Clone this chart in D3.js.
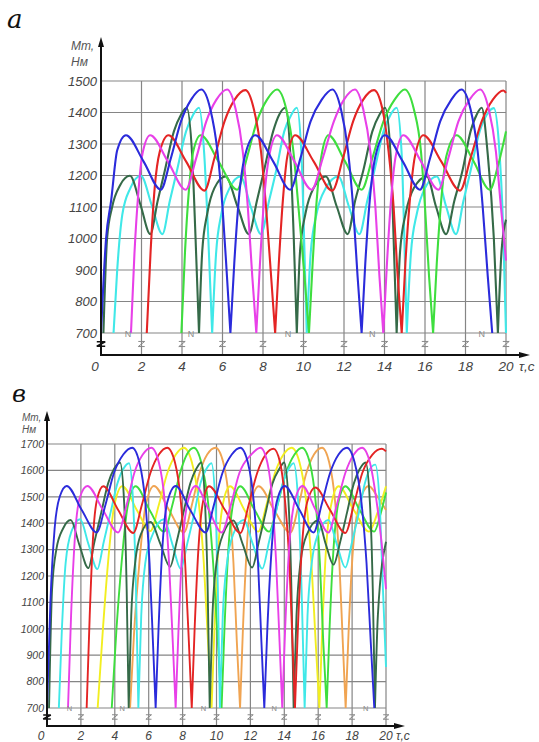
<!DOCTYPE html>
<html><head><meta charset="utf-8">
<script src="https://cdn.jsdelivr.net/npm/d3@7"></script>
<style>body{margin:0;background:#fff}svg{display:block}</style>
</head><body><svg id="c" width="539" height="742"></svg>
<script>
// ---------- tick labels ----------
const timeTicks = [0,2,4,6,8,10,12,14,16,18,20];
const topTorqueTicks = [700,800,900,1000,1100,1200,1300,1400,1500];
const bottomTorqueTicks = [700,800,900,1000,1100,1200,1300,1400,1500,1600,1700];
const breakLabelTimes = [1.33,4.44,9.23,13.4,18.8];

// ---------- panel a (top): [time s, torque N·m] ----------
const topBlue = [[0,700],[0.25,1000],[0.5,1120],[0.8,1280],[1.23,1328],[2.1,1245],[2.95,1155],[3.45,1255],[3.95,1372],[4.45,1441],[4.95,1473],[5.4,1410],[5.75,1277],[6.0,1100],[6.22,880],[6.39,700],[6.58,920],[6.8,1120],[7.1,1260],[7.62,1328],[8.5,1245],[9.34,1155],[9.85,1255],[10.35,1372],[10.9,1441],[11.42,1473],[11.85,1410],[12.2,1277],[12.45,1100],[12.67,880],[12.87,700],[13.05,920],[13.27,1120],[13.55,1260],[14.02,1328],[14.9,1245],[15.75,1155],[16.25,1255],[16.75,1372],[17.3,1441],[17.8,1473],[18.25,1410],[18.6,1277],[18.85,1100],[19.1,880],[19.32,700]];
const topMagenta = [[1.48,700],[1.65,950],[1.85,1150],[2.05,1270],[2.43,1328],[3.3,1245],[4.18,1155],[4.7,1255],[5.2,1372],[5.7,1441],[6.23,1473],[6.65,1410],[7.0,1277],[7.25,1100],[7.47,880],[7.67,700],[7.85,920],[8.05,1120],[8.3,1260],[8.69,1328],[9.55,1245],[10.4,1155],[10.95,1255],[11.5,1372],[12.0,1441],[12.54,1473],[12.95,1410],[13.3,1277],[13.55,1100],[13.75,880],[13.94,700],[14.12,920],[14.32,1120],[14.55,1260],[14.93,1328],[15.8,1245],[16.66,1155],[17.15,1255],[17.65,1372],[18.2,1441],[18.72,1473],[19.15,1410],[19.5,1277],[19.75,1100],[20,930]];
const topRed = [[2.26,700],[2.45,960],[2.65,1160],[2.9,1275],[3.33,1328],[4.2,1245],[5.11,1152],[5.6,1255],[6.1,1372],[6.6,1441],[7.13,1471],[7.55,1410],[7.9,1277],[8.15,1100],[8.4,880],[8.6,700],[8.78,920],[8.98,1120],[9.2,1260],[9.59,1328],[10.5,1245],[11.42,1152],[11.95,1255],[12.45,1372],[12.95,1441],[13.48,1471],[13.9,1410],[14.2,1277],[14.45,1100],[14.65,880],[14.85,700],[15.03,920],[15.25,1120],[15.5,1260],[15.92,1328],[16.8,1245],[17.73,1152],[18.25,1255],[18.8,1372],[19.35,1441],[19.87,1470],[20,1462]];
const topGreen = [[3.97,700],[4.15,960],[4.35,1160],[4.55,1275],[4.92,1328],[5.8,1245],[6.72,1155],[7.2,1255],[7.7,1372],[8.2,1441],[8.69,1473],[9.15,1410],[9.5,1277],[9.75,1100],[10.05,880],[10.27,700],[10.45,920],[10.65,1120],[10.88,1260],[11.23,1328],[12.05,1245],[12.87,1155],[13.4,1255],[13.95,1372],[14.5,1441],[15.0,1473],[15.45,1410],[15.8,1277],[16.0,1100],[16.2,880],[16.4,700],[16.58,920],[16.8,1120],[17.05,1260],[17.56,1328],[18.4,1245],[19.2,1155],[19.6,1230],[20,1340]];
const topDarkGreen = [[0.12,700],[0.3,1000],[0.55,1100],[0.95,1170],[1.43,1199],[1.95,1107],[2.43,1014],[2.8,1120],[3.15,1215],[3.6,1340],[3.95,1393],[4.23,1415],[4.5,1266],[4.67,1000],[4.84,700],[5.0,960],[5.25,1080],[5.6,1160],[6.15,1197],[6.75,1100],[7.3,1014],[7.7,1120],[8.05,1215],[8.5,1340],[8.8,1393],[9.1,1415],[9.35,1266],[9.52,1000],[9.67,700],[9.83,960],[10.1,1080],[10.5,1160],[11.1,1197],[11.65,1100],[12.18,1014],[12.55,1120],[12.95,1215],[13.4,1340],[13.75,1393],[14.03,1415],[14.3,1266],[14.45,1000],[14.6,700],[14.77,960],[15.05,1080],[15.45,1160],[16.09,1197],[16.55,1100],[17.04,1014],[17.45,1120],[17.85,1215],[18.25,1340],[18.55,1393],[18.8,1415],[19.1,1266],[19.4,1000],[19.6,700],[19.78,960],[20,1060]];
const topCyan = [[0.62,700],[0.8,900],[1.05,1075],[1.45,1160],[1.97,1199],[2.5,1107],[3.03,1014],[3.4,1120],[3.75,1215],[4.2,1340],[4.55,1393],[4.84,1415],[5.1,1266],[5.3,1000],[5.49,700],[5.68,950],[5.95,1080],[6.35,1160],[6.89,1197],[7.4,1100],[7.9,1014],[8.3,1120],[8.65,1215],[9.05,1340],[9.4,1393],[9.67,1415],[9.9,1266],[10.03,1000],[10.16,700],[10.35,950],[10.65,1080],[11.1,1160],[11.72,1197],[12.25,1100],[12.76,1014],[13.15,1120],[13.5,1215],[13.95,1340],[14.3,1393],[14.6,1415],[14.85,1266],[14.98,1000],[15.1,700],[15.3,950],[15.6,1080],[16.0,1160],[16.58,1197],[17.05,1100],[17.53,1014],[17.9,1120],[18.25,1215],[18.7,1340],[19.05,1393],[19.4,1414],[19.65,1300],[19.85,1050],[20,700]];

// ---------- panel в (bottom) ----------
const botBlue = [[0,700],[0.2,1100],[0.45,1380],[0.75,1500],[1.16,1541],[2.05,1450],[2.93,1365],[3.45,1470],[3.95,1590],[4.5,1660],[5.03,1686],[5.45,1630],[5.8,1480],[6.05,1250],[6.25,950],[6.41,700],[6.58,1000],[6.8,1300],[7.1,1480],[7.59,1541],[8.45,1450],[9.36,1365],[9.85,1470],[10.35,1590],[10.9,1660],[11.41,1686],[11.85,1630],[12.2,1480],[12.45,1250],[12.65,950],[12.82,700],[13.0,1000],[13.25,1300],[13.55,1480],[14.02,1541],[14.9,1450],[15.73,1365],[16.2,1470],[16.7,1590],[17.2,1660],[17.7,1686],[18.15,1630],[18.55,1480],[18.85,1250],[19.1,950],[19.31,700]];
const botMagenta = [[1.24,700],[1.42,1050],[1.65,1350],[1.95,1500],[2.38,1541],[3.3,1450],[4.19,1365],[4.7,1470],[5.15,1590],[5.65,1660],[6.16,1686],[6.6,1630],[6.95,1480],[7.2,1250],[7.42,950],[7.59,700],[7.76,1000],[7.98,1300],[8.3,1480],[8.77,1541],[9.55,1450],[10.3,1365],[10.85,1470],[11.35,1590],[12.05,1660],[12.6,1686],[13.0,1630],[13.3,1480],[13.52,1250],[13.72,950],[13.88,700],[14.05,1000],[14.28,1300],[14.6,1480],[15.07,1541],[15.85,1450],[16.6,1365],[17.1,1470],[17.6,1590],[18.1,1660],[18.59,1686],[19.05,1630],[19.45,1480],[19.75,1320],[20,1150]];
const botRed = [[2.34,700],[2.52,1050],[2.72,1350],[2.95,1490],[3.32,1540],[4.2,1450],[5.09,1363],[5.6,1470],[6.1,1590],[6.6,1660],[7.1,1686],[7.55,1630],[7.9,1480],[8.15,1250],[8.37,950],[8.54,700],[8.71,1000],[8.93,1300],[9.2,1480],[9.56,1540],[10.5,1450],[11.41,1363],[11.9,1470],[12.4,1590],[12.9,1660],[13.37,1682],[13.75,1630],[14.05,1480],[14.3,1250],[14.48,950],[14.63,700],[14.8,1000],[15.03,1300],[15.35,1480],[15.83,1535],[16.7,1450],[17.6,1363],[18.1,1470],[18.6,1590],[19.2,1660],[19.76,1682],[20,1672]];
const botDarkGreen = [[0.12,700],[0.3,1150],[0.55,1300],[0.95,1380],[1.4,1412],[1.9,1320],[2.44,1230],[2.8,1330],[3.2,1440],[3.6,1550],[3.95,1605],[4.31,1630],[4.55,1480],[4.7,1150],[4.82,700],[4.97,1050],[5.2,1250],[5.55,1360],[6.1,1405],[6.7,1320],[7.26,1235],[7.65,1330],[8.05,1440],[8.45,1550],[8.8,1605],[9.1,1630],[9.32,1480],[9.48,1150],[9.6,700],[9.76,1050],[10.0,1250],[10.4,1360],[11.0,1410],[11.55,1320],[12.1,1232],[12.5,1330],[12.9,1440],[13.3,1550],[13.7,1605],[14.0,1630],[14.25,1480],[14.42,1150],[14.55,700],[14.72,1050],[14.95,1250],[15.35,1360],[16.0,1410],[16.45,1320],[16.9,1243],[17.3,1330],[17.7,1440],[18.1,1550],[18.45,1605],[18.8,1630],[19.05,1480],[19.22,1150],[19.35,700],[19.52,1050],[20,1330]];
const botCyan = [[0.7,700],[0.88,1000],[1.1,1250],[1.45,1370],[1.95,1415],[2.45,1320],[2.97,1226],[3.35,1330],[3.75,1440],[4.15,1550],[4.5,1605],[4.84,1627],[5.08,1480],[5.25,1150],[5.39,700],[5.56,1050],[5.8,1250],[6.25,1360],[6.9,1415],[7.4,1320],[7.89,1228],[8.3,1330],[8.7,1440],[9.05,1550],[9.4,1605],[9.7,1627],[9.93,1480],[10.08,1150],[10.2,700],[10.37,1050],[10.62,1250],[11.0,1360],[11.6,1412],[12.15,1320],[12.7,1228],[13.1,1330],[13.5,1440],[13.9,1550],[14.25,1605],[14.55,1627],[14.82,1480],[15.02,1150],[15.2,700],[15.37,1050],[15.62,1250],[16.0,1360],[16.6,1412],[17.1,1320],[17.6,1232],[18.0,1330],[18.4,1440],[18.75,1550],[19.05,1605],[19.37,1622],[19.62,1480],[19.82,1150],[20,855]];
const botYellow = [[2.99,700],[3.3,1000],[3.6,1250],[3.95,1460],[4.44,1540],[5.3,1450],[6.1,1370],[6.6,1470],[7.1,1590],[7.6,1660],[8.08,1686],[8.55,1630],[8.95,1480],[9.25,1250],[9.5,950],[9.71,700],[9.88,1000],[10.1,1300],[10.4,1480],[10.8,1540],[11.65,1450],[12.46,1368],[12.95,1470],[13.45,1590],[13.95,1660],[14.44,1686],[14.9,1630],[15.3,1480],[15.6,1250],[15.85,950],[16.07,700],[16.24,1000],[16.46,1300],[16.8,1480],[17.2,1540],[18.1,1450],[19.0,1368],[19.5,1440],[20,1540]];
const botGreen = [[3.82,700],[4.1,1000],[4.4,1250],[4.75,1460],[5.23,1540],[6.05,1450],[6.9,1368],[7.4,1470],[7.85,1590],[8.25,1660],[8.67,1686],[9.1,1630],[9.5,1480],[9.8,1250],[10.08,950],[10.3,700],[10.47,1000],[10.7,1300],[11.0,1480],[11.4,1540],[12.25,1450],[13.1,1368],[13.6,1470],[14.1,1590],[14.6,1660],[15.05,1686],[15.5,1630],[15.85,1480],[16.1,1250],[16.3,950],[16.5,700],[16.67,1000],[16.9,1300],[17.2,1480],[17.6,1540],[18.45,1450],[19.3,1368],[19.7,1440],[20,1516]];
const botOrange = [[4.9,700],[5.15,1000],[5.45,1250],[5.8,1460],[6.31,1541],[7.2,1450],[8.08,1365],[8.55,1470],[9.0,1590],[9.45,1660],[9.95,1686],[10.4,1630],[10.75,1480],[11.0,1250],[11.2,950],[11.39,700],[11.56,1000],[11.78,1300],[12.05,1480],[12.49,1540],[13.4,1450],[14.36,1365],[14.85,1470],[15.3,1590],[15.75,1660],[16.23,1686],[16.65,1630],[17.0,1480],[17.25,1250],[17.45,950],[17.62,700],[17.8,1000],[18.05,1300],[18.45,1480],[18.98,1541],[19.5,1500],[20,1450]];

const C = {blue:'#2b2bdb', magenta:'#e840e8', red:'#e42424', dkgreen:'#356a48', green:'#3ede3e', cyan:'#40e8e8', yellow:'#f2ee20', orange:'#f0a452'};

const topSeries = [
  {data: topCyan, color: C.cyan}, {data: topDarkGreen, color: C.dkgreen},
  {data: topGreen, color: C.green}, {data: topRed, color: C.red},
  {data: topMagenta, color: C.magenta}, {data: topBlue, color: C.blue}
];
const botSeries = [
  {data: botOrange, color: C.orange}, {data: botYellow, color: C.yellow},
  {data: botGreen, color: C.green}, {data: botCyan, color: C.cyan},
  {data: botDarkGreen, color: C.dkgreen}, {data: botRed, color: C.red},
  {data: botMagenta, color: C.magenta}, {data: botBlue, color: C.blue}
];

// split a series at its 700-level turning points so each V stays sharp
function arcs(data, floor) {
  const out = []; let cur = [];
  data.forEach((p, i) => {
    cur.push(p);
    if (p[1] <= floor && i > 0 && i < data.length - 1) { out.push(cur); cur = [p]; }
  });
  if (cur.length > 1) out.push(cur);
  return out;
}

const svg = d3.select('#c');
const FONT = '"Liberation Sans", Arial, sans-serif';
const SERIF = '"DejaVu Serif", "Liberation Serif", serif';

function panel(o) {
  const g = svg.append('g');
  const x = d3.scaleLinear().domain([0,20]).range(o.xr);
  const y = d3.scaleLinear().domain(o.yd).range(o.yr);
  const grid = '#858585';

  g.selectAll('.hg').data(o.yTicks).enter().append('line')
    .attr('x1', x(0)).attr('x2', x(20)).attr('y1', d=>y(d)).attr('y2', d=>y(d))
    .attr('stroke', grid).attr('stroke-width', 1.2);
  g.selectAll('.vg').data(timeTicks.slice(1)).enter().append('line')
    .attr('x1', d=>x(d)).attr('x2', d=>x(d)).attr('y1', y(o.yd[1])).attr('y2', o.axisY)
    .attr('stroke', grid).attr('stroke-width', 1.2);

  const zs = o.zs;
  g.selectAll('.bz').data(timeTicks.slice(1)).enter().append('path')
    .attr('d', d=>`M${x(d)-zs},${o.breakY-zs*0.8}h${zs*2}l${-zs*2},${zs*1.6}h${zs*2}`)
    .attr('fill','none').attr('stroke','#888').attr('stroke-width',1);
  g.append('path')
    .attr('d', `M${x(0)-zs-1},${o.breakY-zs*0.7}h${zs*2+2}l${-zs*2-2},${zs*1.4}h${zs*2+2}`)
    .attr('fill','none').attr('stroke','#111').attr('stroke-width',1.6);

  const clipId = 'clip' + o.id;
  svg.append('clipPath').attr('id', clipId).append('rect')
    .attr('x', x(0)).attr('y', y(o.yd[1]) - 6).attr('width', x(20)-x(0)+1).attr('height', y(o.yd[0]) - y(o.yd[1]) + 6.5);
  const line = d3.line().x(d=>x(d[0])).y(d=>y(d[1])).curve(d3.curveMonotoneX);
  const cg = g.append('g').attr('clip-path', `url(#${clipId})`);
  o.series.forEach(s => {
    cg.append('path').attr('d', arcs(s.data, o.yd[0]).map(a => line(a)).join(''))
      .attr('fill','none').attr('stroke', s.color)
      .attr('stroke-width', o.lw).attr('stroke-linejoin','round');
  });

  g.selectAll('.nl').data(breakLabelTimes).enter().append('text')
    .attr('x', d=>x(d)).attr('y', o.nY).attr('text-anchor','middle')
    .attr('font-family', FONT).attr('font-size', o.nFs).attr('fill','#8a8a8a').text('N');

  g.append('line').attr('x1', x(0)).attr('x2', x(0)).attr('y1', o.axisY+1).attr('y2', o.yArrow+6)
    .attr('stroke','#111').attr('stroke-width',2);
  g.append('path').attr('d', `M${x(0)},${o.yArrow}l-3,10h6z`).attr('fill','#111');
  g.append('line').attr('x1', x(0)-1).attr('x2', o.xArrow-6).attr('y1', o.axisY).attr('y2', o.axisY)
    .attr('stroke','#111').attr('stroke-width',2);
  g.append('path').attr('d', `M${o.xArrow},${o.axisY}l-11,-3v6z`).attr('fill','#111');

  g.selectAll('.yl').data(o.yTicks).enter().append('text')
    .attr('x', x(0)-o.yLabOff).attr('y', d=>y(d)+o.yFs*0.36).attr('text-anchor','end')
    .attr('font-family', FONT).attr('font-style','italic').attr('font-size', o.yFs)
    .attr('fill','#444').text(d=>d);
  g.selectAll('.xl').data(timeTicks).enter().append('text')
    .attr('x', d=> d===0 ? x(0)-o.zeroOff : x(d)).attr('y', o.xLabY).attr('text-anchor','middle')
    .attr('font-family', FONT).attr('font-style','italic').attr('font-size', o.xFs)
    .attr('fill','#444').text(d=>d);
  g.append('text').attr('x', o.tauX).attr('y', o.xLabY)
    .attr('font-family', FONT).attr('font-style','italic').attr('font-size', o.xFs)
    .attr('fill','#444').text('τ,с');
  g.append('text').attr('x', o.unitX).attr('y', o.unitY[0])
    .attr('font-family', FONT).attr('font-style','italic').attr('font-size', o.unitFs)
    .attr('fill','#555').text('Мт,');
  g.append('text').attr('x', o.unitX).attr('y', o.unitY[1])
    .attr('font-family', FONT).attr('font-style','italic').attr('font-size', o.unitFs)
    .attr('fill','#555').text('Нм');
  g.append('text').attr('x', o.letterX).attr('y', o.letterY)
    .attr('font-family', SERIF).attr('font-style','italic').attr('font-size', o.letterFs)
    .attr('fill','#111').text(o.letter);
}

panel({id:'a', xr:[101,506], yd:[700,1500], yr:[333,81], yTicks: topTorqueTicks, series: topSeries,
  axisY:355, yArrow:37, xArrow:530, breakY:344, zs:3.2, lw:2.1,
  nY:337, nFs:9, yLabOff:4, yFs:13, xLabY:371, xFs:13.5, zeroOff:6, tauX:519,
  unitX:71, unitY:[50,66], unitFs:12, letter:'а', letterX:7, letterY:28, letterFs:26});

panel({id:'b', xr:[47,386], yd:[700,1700], yr:[708,444], yTicks: bottomTorqueTicks, series: botSeries,
  axisY:726, yArrow:411, xArrow:405, breakY:717, zs:2.8, lw:1.9,
  nY:711, nFs:7.5, yLabOff:3, yFs:10.5, xLabY:740, xFs:12, zeroOff:6, tauX:396,
  unitX:22, unitY:[421,433], unitFs:10, letter:'в', letterX:12, letterY:402, letterFs:24});
</script></body></html>
